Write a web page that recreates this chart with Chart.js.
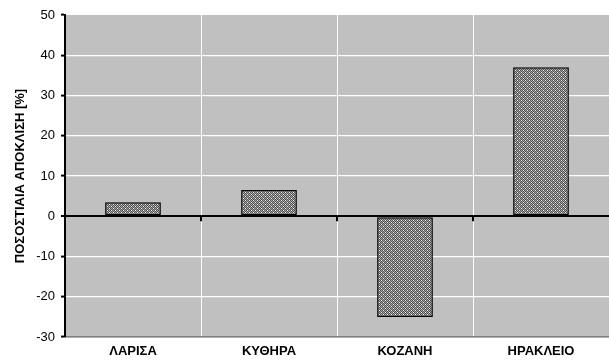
<!DOCTYPE html>
<html>
<head>
<meta charset="utf-8">
<script src="https://cdn.jsdelivr.net/npm/chart.js@4/dist/chart.umd.min.js"></script>
<style>
  html, body { margin: 0; padding: 0; background: #fff; }
  #wrap { width: 609px; height: 363px; }
</style>
</head>
<body>
<div id="wrap"><canvas id="myChart" width="609" height="363"></canvas></div>
<script>
const poleis = ['ΛΑΡΙΣΑ', 'ΚΥΘΗΡΑ', 'ΚΟΖΑΝΗ', 'ΗΡΑΚΛΕΙΟ']
const apoklisi = [3.5, 6.5, -25, 37]
const yMin = -30
const yMax = 50
const yStep = 10

// hatched fill like the old excel pattern
const tile = document.createElement('canvas')
tile.width = 4
tile.height = 4
const tctx = tile.getContext('2d')
for (let x = 0; x < 4; x++) {
	for (let y = 0; y < 4; y++) {
		tctx.fillStyle = (x + y) % 2 == 0 ? '#4e4e4e' : '#a4a4a4'
		tctx.fillRect(x, y, 1, 1)
	}
}
tctx.fillStyle = '#ffffff'
tctx.fillRect(1, 0, 1, 1)
tctx.fillRect(3, 2, 1, 1)

const ctx = document.getElementById('myChart')
const pattern = ctx.getContext('2d').createPattern(tile, 'repeat')

const plotBg = {
	id: 'plotBg',
	beforeDraw(chart) {
		const a = chart.chartArea
		const c = chart.ctx
		c.save()
		c.fillStyle = '#c0c0c0'
		c.fillRect(a.left, a.top, a.right - a.left, a.bottom - a.top)
		c.restore()
	}
}

// small marks hanging below the zero line between categories
const zeroTicks = {
	id: 'zeroTicks',
	afterDatasetsDraw(chart) {
		const xs = chart.scales.x
		const y0 = chart.scales.y.getPixelForValue(0)
		const c = chart.ctx
		c.save()
		c.fillStyle = '#000'
		for (let i = 0; i < poleis.length - 1; i++) {
			const xb = (xs.getPixelForValue(i) + xs.getPixelForValue(i + 1)) / 2
			c.fillRect(xb - 1, y0, 2, 5)
		}
		c.restore()
	}
}

new Chart(ctx, {
	type: 'bar',
	data: {
		labels: poleis,
		datasets: [{
			data: apoklisi,
			backgroundColor: pattern,
			borderColor: '#000',
			borderWidth: 1.5,
			borderSkipped: false,
			categoryPercentage: 1,
			barPercentage: 0.41
		}]
	},
	options: {
		responsive: false,
		animation: false,
		layout: { padding: { top: 15, right: 0, left: 0, bottom: 0 } },
		plugins: {
			legend: { display: false },
			tooltip: { enabled: false }
		},
		scales: {
			x: {
				afterFit(scale) { scale.height = 26 },
				grid: {
					offset: true,
					color: '#ffffff',
					lineWidth: 1,
					drawTicks: false
				},
				border: { color: '#808080', width: 1.5 },
				ticks: {
					color: '#000',
					padding: 7,
					maxRotation: 0,
					font: { family: 'Arial, "Liberation Sans"', size: 13, weight: 'bold' }
				}
			},
			y: {
				min: yMin,
				max: yMax,
				afterFit(scale) { scale.width = 65 },
				ticks: {
					stepSize: yStep,
					color: '#000',
					padding: 6,
					font: { family: 'Arial, "Liberation Sans"', size: 13 }
				},
				grid: {
					color: (c) => {
						const v = c.tick ? c.tick.value : null
						if (v === 0) return '#000'
						if (v === yMax) return 'rgba(0,0,0,0)'
						if (v === yMin) return '#808080'
						return '#ffffff'
					},
					lineWidth: (c) => (c.tick && c.tick.value === 0 ? 2 : 1.2),
					tickColor: '#000',
					tickLength: 4,
					tickWidth: 2
				},
				border: { color: '#000', width: 2 },
				title: {
					display: true,
					text: 'ΠΟΣΟΣΤΙΑΙΑ ΑΠΟΚΛΙΣΗ [%]',
					color: '#000',
					padding: { top: 13, bottom: 0 },
					font: { family: 'Arial, "Liberation Sans"', size: 13, weight: 'bold' }
				}
			}
		}
	},
	plugins: [plotBg, zeroTicks]
})
</script>
</body>
</html>
